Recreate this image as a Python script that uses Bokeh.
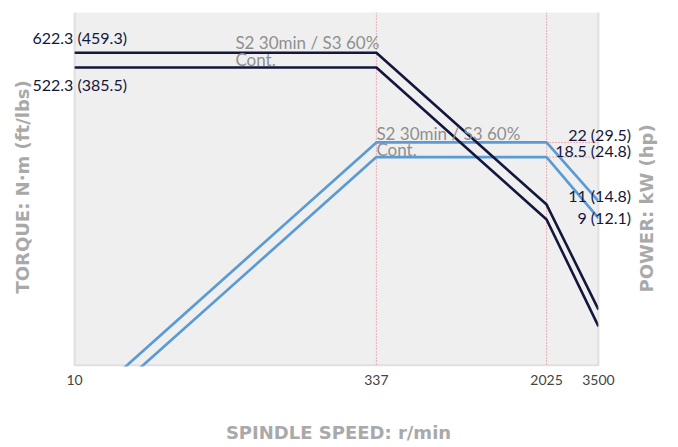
import math
from bokeh.plotting import figure
from bokeh.models import Range1d, LogScale, FixedTicker, Label, Span, BoxAnnotation
from bokeh.embed import file_html
from bokeh.resources import INLINE

# ---- data ----
speed = [10, 337, 2025, 3500]
tick_speeds = [10, 337, 2025, 3500]
tick_labels = ["10", "337", "2025", "3500"]
torque_s2 = [622.3, 622.3, 103.6, 30.0]
torque_cont = [522.3, 522.3, 86.9, 24.6]
power_s2 = [0.65, 22.0, 22.0, 11.0]
power_cont = [0.55, 18.5, 18.5, 9.0]
torque_text = ["622.3 (459.3)", "522.3 (385.5)"]
power_text = ["22 (29.5)", "18.5 (24.8)", "11 (14.8)", "9 (12.1)"]
duty_text = ["S2 30min / S3 60%", "Cont."]
corner_speeds = [337, 2025]

# ---- visible plot box (data ranges) ----
x_lo, x_hi = 14, 3500
t_lo, t_hi = 15.5, 1000
p_lo, p_hi = 1.58, 102

# ---- layout (pixels) ----
W, BOX_L, BOX_R = 676, 74, 598
BOX_H = 353
ppd_x = (BOX_R - BOX_L) / math.log10(x_hi / x_lo)
ppd_y = BOX_H / math.log10(t_hi / t_lo)
fx_lo = x_lo * 10 ** (-BOX_L / ppd_x)
fx_hi = x_hi * 10 ** ((W - BOX_R) / ppd_x)
fy_t_lo = t_lo * 10 ** (-1 / ppd_y)
fy_p_lo = p_lo * 10 ** (-1 / ppd_y)

FONT = "Lato"
TFONT = "DejaVu Sans"
NAVY = "#13173d"
BLUE = "#5b9bd5"
RED = "#e8707f"
GREY_TXT = "#8f8f8f"
TITLE = "#a9a9a9"
BORDER = "#aaaaaa"

p = figure(x_axis_type="log", y_axis_type="log", y_axis_location=None,
           x_range=Range1d(fx_lo, fx_hi), y_range=Range1d(fy_t_lo, t_hi),
           frame_width=W, frame_height=BOX_H + 1,
           min_border_left=0, min_border_right=0, min_border_top=12, min_border_bottom=75,
           output_backend="svg", toolbar_location=None,
           background_fill_color="white", border_fill_color="white",
           outline_line_color=None)
p.extra_y_ranges = {"power": Range1d(fy_p_lo, p_hi)}
p.extra_y_scales = {"power": LogScale()}
p.grid.visible = False

# bottom axis
xa = p.xaxis[0]
xa.ticker = FixedTicker(ticks=[x_lo] + tick_speeds[1:])
xa.major_label_overrides = {t: l for t, l in zip([x_lo] + tick_speeds[1:], tick_labels)}
xa.major_tick_line_color = None
xa.major_tick_out = 0
xa.major_tick_in = 0
xa.minor_tick_line_color = None
xa.minor_tick_out = 0
xa.axis_line_color = None
xa.major_label_text_font = FONT
xa.major_label_text_font_size = "14px"
xa.major_label_text_color = "#444444"
xa.major_label_standoff = 8
xa.axis_label = "SPINDLE SPEED: r/min"
xa.axis_label_text_font = TFONT
xa.axis_label_text_font_style = "bold"
xa.axis_label_text_font_size = "18px"
xa.axis_label_text_color = TITLE
xa.axis_label_standoff = 34

# plot box background
p.add_layout(BoxAnnotation(left=x_lo, right=x_hi, bottom=t_lo, top=t_hi * 2,
                           fill_color="#efefef", fill_alpha=1, line_color=None,
                           level="underlay"))

# dotted guides
for s in corner_speeds:
    p.add_layout(Span(location=s, dimension="height", line_color=RED,
                      line_width=1, line_dash="1 2", level="underlay"))
for pv in power_s2[1:2] + power_cont[1:2]:
    p.segment(x0=corner_speeds[1], x1=x_hi, y0=pv, y1=pv, y_range_name="power",
              line_color=RED, line_width=1, line_dash="1 2")

# power curves
p.line(speed, power_s2, y_range_name="power", line_color=BLUE, line_width=2.7)
p.line(speed, power_cont, y_range_name="power", line_color=BLUE, line_width=2.7)
# torque curves
p.line(speed, torque_s2, line_color=NAVY, line_width=2.6)
p.line(speed, torque_cont, line_color=NAVY, line_width=2.6)

# white masks outside the plot box, then the box border
p.add_layout(BoxAnnotation(left=fx_lo / 10, right=x_lo, bottom=t_lo / 10, top=t_hi * 10,
                           fill_color="white", fill_alpha=1, line_color=None,
                           level="annotation"))
p.add_layout(BoxAnnotation(left=x_hi, right=fx_hi * 10, bottom=t_lo / 10, top=t_hi * 10,
                           fill_color="white", fill_alpha=1, line_color=None,
                           level="annotation"))
p.add_layout(BoxAnnotation(left=x_lo, right=x_hi, bottom=t_lo, top=t_hi * 2,
                           fill_alpha=0, line_color=BORDER, line_width=2,
                           level="annotation"))

def lab(text, x, y, xo, yo, align="left", color=NAVY, size="16px", yname="default",
        style="normal", angle=0.0, font=FONT):
    p.add_layout(Label(x=x, y=y, x_offset=xo, y_offset=yo, text=text,
                       text_align=align, text_baseline="middle",
                       text_font=font, text_font_size=size, text_color=color,
                       text_font_style=style, angle=angle, y_range_name=yname,
                       level="overlay"))

# duty annotations
lab(duty_text[0], corner_speeds[0], torque_s2[1], -141, 10, color=GREY_TXT, size="17px")
lab(duty_text[1], corner_speeds[0], torque_s2[1], -141, -7, color=GREY_TXT, size="17px")
lab(duty_text[0], corner_speeds[0], power_s2[1], 0, 8.5, color=GREY_TXT, size="17px", yname="power")
lab(duty_text[1], corner_speeds[0], power_s2[1], 0, -7.5, color=GREY_TXT, size="17px", yname="power")

# torque values
lab(torque_text[0], x_lo, torque_s2[0], -42, 15)
lab(torque_text[1], x_lo, torque_cont[0], -42, -17)

# power values
lab(power_text[0], x_hi, power_s2[1], 32.5, 7.5, align="right", yname="power")
lab(power_text[1], x_hi, power_cont[1], 32.5, 6.7, align="right", yname="power")
lab(power_text[2], x_hi, power_s2[3], 32.5, 6, align="right", yname="power")
lab(power_text[3], x_hi, power_cont[3], 32.5, 0.6, align="right", yname="power")

# vertical axis titles
lab("TORQUE: N·m (ft/lbs)", x_lo, t_lo, -52, 72, color=TITLE, size="18px",
    style="bold", angle=math.pi / 2, font=TFONT)
lab("POWER: kW (hp)", x_hi, p_lo, 48, 73, color=TITLE, size="18px",
    style="bold", angle=math.pi / 2, yname="power", font=TFONT)

open("out.html", "w").write(file_html(p, INLINE))
